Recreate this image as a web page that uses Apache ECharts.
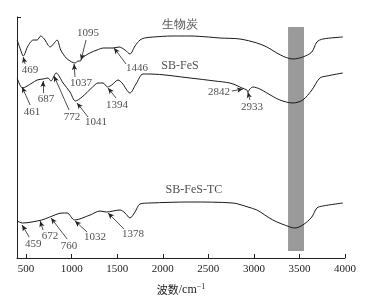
<!DOCTYPE html>
<html>
<head>
<meta charset="utf-8">
<script src="https://cdn.jsdelivr.net/npm/echarts@6/dist/echarts.min.js"></script>
<style>
  html, body { margin: 0; padding: 0; background: #fff; }
  #chart { width: 381px; height: 303px; }
</style>
</head>
<body>
<div id="chart"></div>
<script>
// wavenumber (cm-1) / relative transmittance (arbitrary, stacked)
var biochar = [
  [402, 218], [440, 208], [469, 202], [520, 212], [580, 218], [621, 218],
  [660, 222], [690, 220], [708, 218], [740, 213], [763, 211], [800, 214],
  [840, 218], [880, 208], [940, 200], [1000, 196], [1037, 195], [1070, 197],
  [1095, 197], [1114, 200], [1200, 205], [1279, 208], [1350, 210], [1454, 210],
  [1520, 211], [1586, 208], [1640, 204], [1695, 212], [1750, 218], [1800, 220],
  [1900, 221], [2100, 222], [2298, 222], [2500, 221], [2627, 220], [2847, 219],
  [3033, 215], [3143, 211], [3252, 205], [3340, 201], [3428, 199], [3537, 201],
  [3636, 206], [3691, 216], [3757, 219], [3976, 221]
];
var sbFeS = [
  [402, 180], [461, 170], [566, 175], [621, 178], [687, 179], [740, 180],
  [772, 177], [830, 185], [906, 175], [982, 166], [1041, 157], [1114, 161],
  [1230, 171], [1290, 175], [1344, 175], [1394, 171], [1440, 173], [1509, 178],
  [1553, 175], [1640, 165], [1706, 174], [1783, 184], [1860, 184], [2298, 180],
  [2572, 177], [2737, 175], [2825, 172], [2869, 170], [2923, 168], [2933, 166],
  [2956, 169], [2989, 171], [3066, 169], [3143, 165], [3285, 158], [3428, 155],
  [3537, 158], [3636, 168], [3724, 180], [3801, 182], [3976, 185]
];
var sbFeSTC = [
  [402, 37], [459, 35], [672, 38], [760, 41], [895, 45], [950, 45],
  [1032, 38], [1202, 43], [1311, 47], [1378, 46], [1531, 48], [1586, 45],
  [1640, 40], [1695, 46], [1750, 54], [1860, 55], [2298, 56], [2770, 55],
  [2901, 52], [2934, 51], [3033, 48], [3208, 38], [3395, 31], [3450, 30],
  [3537, 33], [3636, 41], [3691, 50], [3757, 52], [3976, 55]
];
var seriesNames = ['生物炭', 'SB-FeS', 'SB-FeS-TC'];
var seriesNameAt = [[2189, 233], [2189, 192], [2342, 68]];

// peak labels: text, label centre, arrow start, arrow tip
var peakText = ['469', '1095', '1037', '1446', '461', '687', '772', '1041', '1394',
  '2842', '2933', '459', '672', '760', '1032', '1378'];
var peakLabelAt = [[544, 188], [1180, 225], [1103, 175], [1717, 190], [566, 146],
  [719, 159], [1004, 141], [1268, 136], [1498, 153], [2616, 166], [2978, 151],
  [577, 14], [763, 22], [971, 12], [1257, 21], [1673, 24]];
var peakArrow = [
  [[489, 194], [467, 201]], [[1158, 218], [1103, 198]], [[1037, 181], [1026, 194]],
  [[1597, 194], [1465, 210]], [[544, 153], [456, 171]], [[686, 165], [686, 177]],
  [[971, 148], [807, 182]], [[1180, 141], [1059, 155]], [[1487, 160], [1399, 170]],
  [[2759, 167], [2880, 169]], [[2956, 158], [2934, 166]], [[533, 21], [456, 33]],
  [[686, 28], [654, 37]], [[950, 19], [774, 40]], [[1169, 26], [1037, 37]],
  [[1575, 29], [1399, 45]]
];
var band = [3375, 3550];
var xTicks = [500, 1000, 1500, 2000, 2500, 3000, 3500, 4000];

var serif = 'Liberation Serif';
var cjk = 'Noto Sans CJK SC';

var chart = echarts.init(document.getElementById('chart'));

var curves = [biochar, sbFeS, sbFeSTC].map(function (d, i) {
  var s = {
    type: 'line',
    data: d,
    showSymbol: false,
    smooth: 0.3,
    lineStyle: { color: '#1a1a1a', width: 1 },
    silent: true,
    z: 3
  };
  if (i === 0) {
    s.markArea = {
      silent: true,
      itemStyle: { color: '#9a9a9a' },
      data: [[{ coord: [band[0], 7] }, { coord: [band[1], 231] }]]
    };
  }
  return s;
});

var labels = peakText.map(function (t, i) {
  return { value: peakLabelAt[i], name: t };
});
var names = seriesNames.map(function (t, i) {
  return { value: seriesNameAt[i], name: t };
});

var option = {
  animation: false,
  grid: { left: 17, right: 36, top: 17, bottom: 45 },
  xAxis: {
    type: 'value',
    min: 400,
    max: 4000,
    name: '{a|波数}{b|/cm}{c|−1}',
    nameLocation: 'middle',
    nameGap: 25,
    nameTextStyle: {
      rich: {
        a: { fontFamily: cjk, fontSize: 11, color: '#222' },
        b: { fontFamily: serif, fontSize: 12, color: '#222' },
        c: { fontFamily: serif, fontSize: 8, color: '#222', verticalAlign: 'top', padding: [0, 0, 6, 0] }
      }
    },
    axisLine: { show: true, lineStyle: { color: '#222', width: 1 } },
    axisTick: { show: true, inside: true, length: 4, customValues: xTicks, lineStyle: { color: '#222' } },
    axisLabel: {
      customValues: xTicks,
      margin: 6,
      fontFamily: serif,
      fontSize: 11,
      color: '#222',
      formatter: function (v) { return String(v); }
    },
    splitLine: { show: false }
  },
  yAxis: {
    type: 'value',
    min: 0,
    max: 241,
    axisLine: { show: true, lineStyle: { color: '#222', width: 1 } },
    axisTick: { show: true, inside: true, length: 4, customValues: [241], lineStyle: { color: '#222' } },
    axisLabel: { show: false },
    splitLine: { show: false }
  },
  series: curves.concat([
    {
      type: 'scatter',
      data: labels,
      symbolSize: 0,
      silent: true,
      label: {
        show: true,
        position: 'inside',
        formatter: '{b}',
        fontFamily: serif,
        fontSize: 11,
        color: '#222'
      },
      markLine: {
        silent: true,
        symbol: ['none', 'arrow'],
        symbolSize: [4, 6],
        lineStyle: { color: '#222', width: 0.8, type: 'solid' },
        label: { show: false },
        data: peakArrow.map(function (a) {
          return [{ coord: a[0] }, { coord: a[1] }];
        })
      }
    },
    {
      type: 'scatter',
      data: names,
      symbolSize: 0,
      silent: true,
      label: {
        show: true,
        position: 'inside',
        formatter: '{b}',
        fontFamily: serif,
        fontSize: 12,
        color: '#222'
      }
    }
  ])
};
chart.setOption(option);
</script>
</body>
</html>
